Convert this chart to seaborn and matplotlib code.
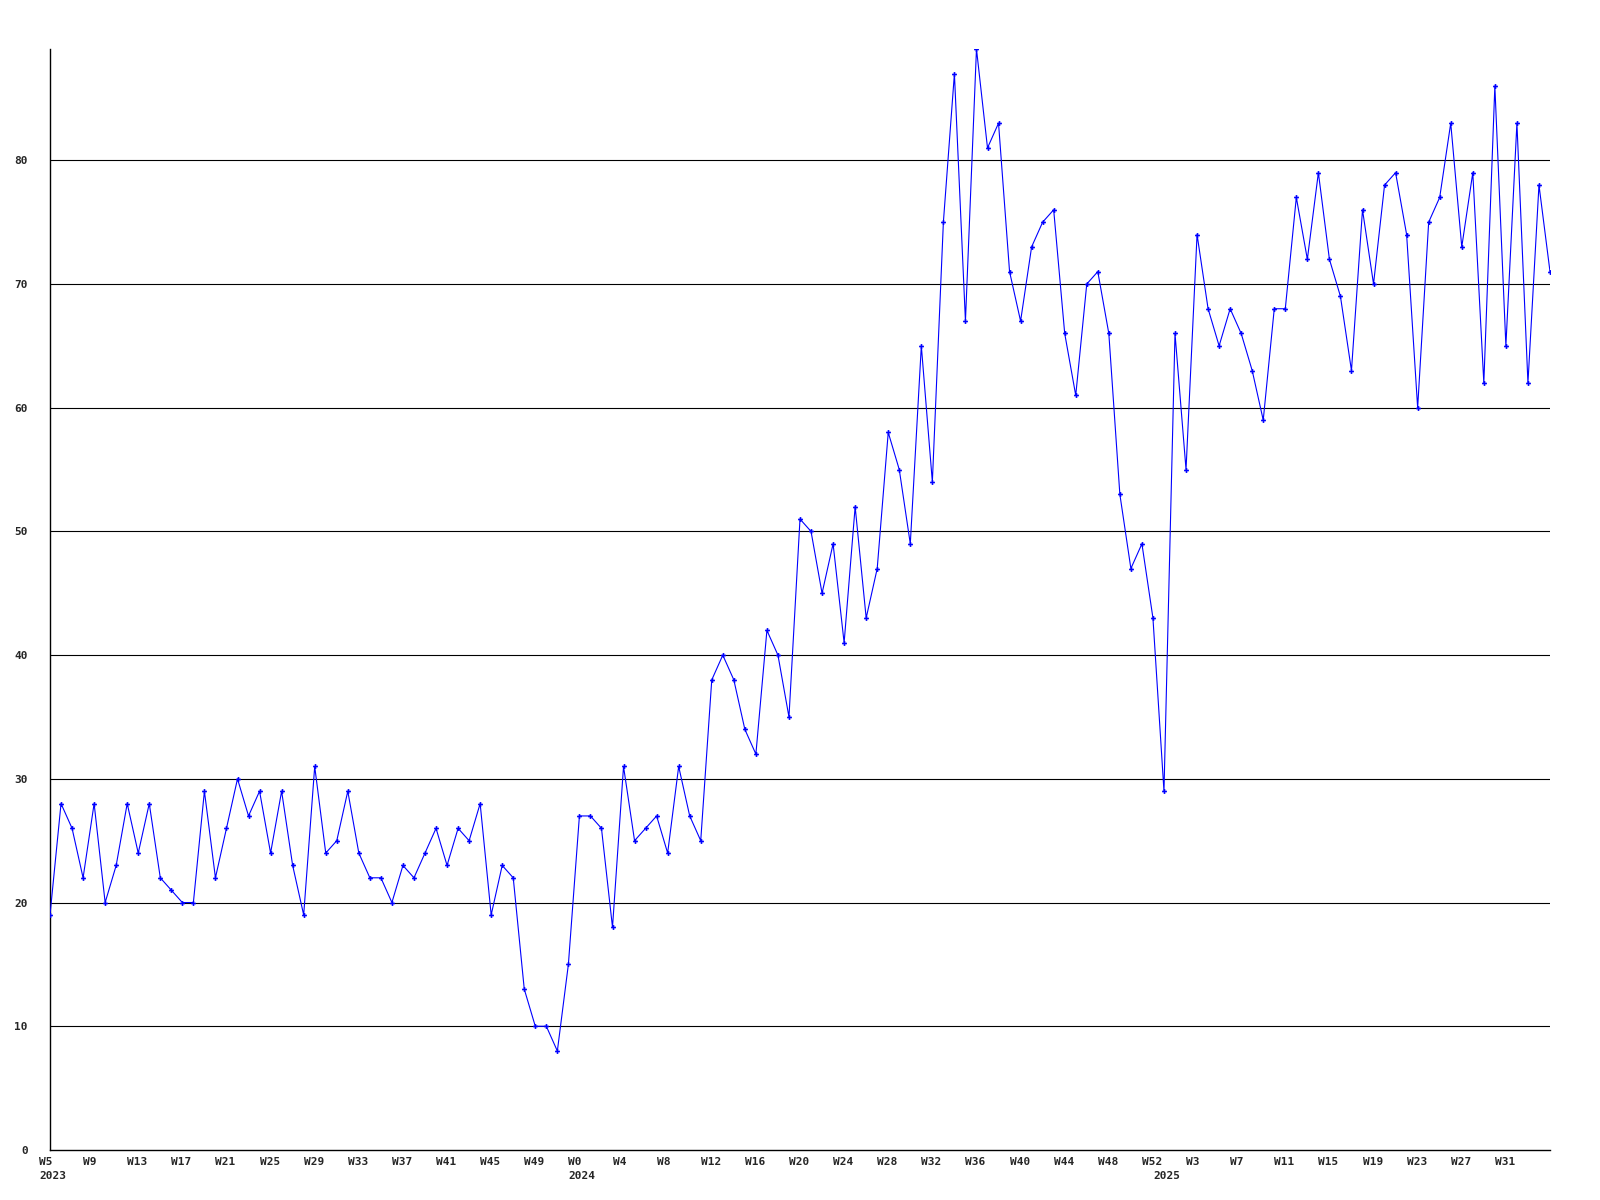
import matplotlib
matplotlib.use("Agg")
import matplotlib.pyplot as plt
import seaborn as sns
import pandas as pd
from matplotlib.transforms import ScaledTranslation

# weekly values, 2023 W5 .. 2025 W35
vals_2023 = [19, 28, 26, 22, 28, 20, 23, 28, 24, 28, 22, 21, 20, 20, 29, 22,
             26, 30, 27, 29, 24, 29, 23, 19, 31, 24, 25, 29, 24, 22, 22, 20,
             23, 22, 24, 26, 23, 26, 25, 28, 19, 23, 22, 13, 10, 10, 8, 15]
vals_2024 = [27, 27, 26, 18, 31, 25, 26, 27, 24, 31, 27, 25, 38, 40, 38, 34,
             32, 42, 40, 35, 51, 50, 45, 49, 41, 52, 43, 47, 58, 55, 49, 65,
             54, 75, 87, 67, 89, 81, 83, 71, 67, 73, 75, 76, 66, 61, 70, 71,
             66, 53, 47, 49, 43]
vals_2025 = [29, 66, 55, 74, 68, 65, 68, 66, 63, 59, 68, 68, 77, 72, 79, 72,
             69, 63, 76, 70, 78, 79, 74, 60, 75, 77, 83, 73, 79, 62, 86, 65,
             83, 62, 78, 71]

weeks_2023 = list(range(5, 53))
weeks_2024 = list(range(0, 53))
weeks_2025 = list(range(0, 36))

years = ["2023", "2024", "2025"]

values = vals_2023 + vals_2024 + vals_2025
week_labels = ["W%d" % w for w in weeks_2023 + weeks_2024 + weeks_2025]
year_start = [0, len(vals_2023), len(vals_2023) + len(vals_2024)]

df = pd.DataFrame({"pos": range(len(values)), "value": values})

sns.set_style("white")
plt.rcParams["font.family"] = ["DejaVu Sans Mono", "DejaVu Sans"]
plt.rcParams["font.weight"] = "bold"

fig = plt.figure(figsize=(16, 12), dpi=100)
ax = fig.add_axes([0.03125, 0.0417, 0.9375, 0.9175])

for g in range(10, 90, 10):
    ax.axhline(g, color="black", lw=0.8, zorder=1)

sns.lineplot(data=df, x="pos", y="value", ax=ax, color="#0000ff", lw=0.8,
             marker="P", markersize=3.5, markeredgewidth=0, zorder=3)

ax.set_xlim(0, len(values) - 1)
ax.set_ylim(0, 89)
ax.set_xlabel("")
ax.set_ylabel("")

# a label every 4 weeks, the last point gets none
ticks = list(range(0, len(values) - 1, 4))
ax.set_xticks(ticks)
ax.set_xticklabels([week_labels[i] for i in ticks], fontsize=8, fontweight="bold")
ax.set_yticks(range(0, 90, 10))
ax.set_yticklabels([str(v) for v in range(0, 90, 10)], fontsize=8, fontweight="bold")
ax.tick_params(axis="x", length=0, pad=5)
ax.tick_params(axis="y", length=0, pad=16)

shift = ScaledTranslation(-11 / 100, 0, fig.dpi_scale_trans)
for lbl in ax.get_xticklabels():
    lbl.set_ha("left")
    lbl.set_transform(lbl.get_transform() + shift)

for y, start in zip(years, year_start):
    ax.text(start, -0.0236, y, transform=ax.get_xaxis_transform() + shift,
            ha="left", va="center", fontsize=8, fontweight="bold")

for s in ["top", "right"]:
    ax.spines[s].set_visible(False)
for s in ["left", "bottom"]:
    ax.spines[s].set_color("black")
    ax.spines[s].set_linewidth(1.0)

fig.savefig("out.png", dpi=100, facecolor="white")
